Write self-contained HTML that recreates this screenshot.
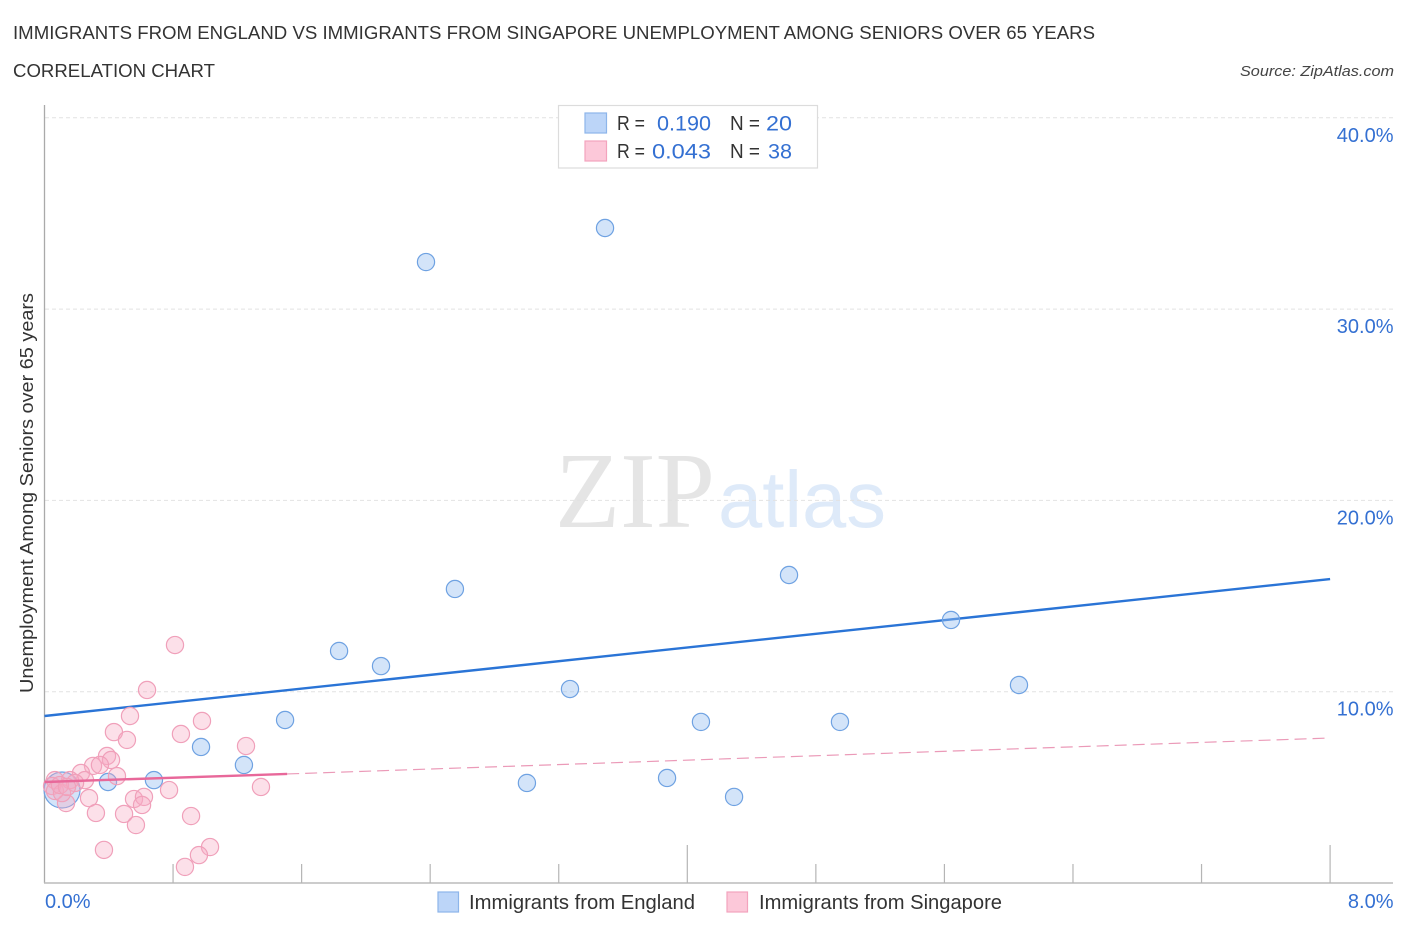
<!DOCTYPE html>
<html lang="en">
<head>
<meta charset="utf-8">
<title>Immigrants from England vs Immigrants from Singapore Correlation Chart</title>
<style>
html,body{margin:0;padding:0;background:#fff;width:1406px;height:930px;overflow:hidden}
svg{display:block;font-family:"Liberation Sans",sans-serif}
</style>
</head>
<body>
<svg id="chart" xmlns="http://www.w3.org/2000/svg" width="1406" height="930" viewBox="0 0 1406 930">
  <rect x="0" y="0" width="1406" height="930" fill="#fff"/>
  <text x="13" y="39" font-size="18.5" fill="#333" textLength="1082" lengthAdjust="spacingAndGlyphs">IMMIGRANTS FROM ENGLAND VS IMMIGRANTS FROM SINGAPORE UNEMPLOYMENT AMONG SENIORS OVER 65 YEARS</text>
  <text x="13" y="77" font-size="18.5" fill="#333" textLength="202" lengthAdjust="spacingAndGlyphs">CORRELATION CHART</text>
  <text x="1394" y="76" font-size="15" font-style="italic" fill="#444" text-anchor="end" textLength="154" lengthAdjust="spacingAndGlyphs">Source: ZipAtlas.com</text>

  <g id="watermark">
    <text x="555" y="527" font-family="'Liberation Serif',serif" font-size="108" fill="#e5e5e5" textLength="160" lengthAdjust="spacingAndGlyphs">ZIP</text>
    <text x="718" y="527" font-size="80" fill="#deeaf9" textLength="168" lengthAdjust="spacingAndGlyphs">atlas</text>
  </g>

  <g id="grid"></g>
  <g id="axes"></g>
  <g id="trend"></g>
  <g id="points"></g>
  <g id="labels"></g>

  <text transform="translate(33,693) rotate(-90)" font-size="18" fill="#333" textLength="400" lengthAdjust="spacingAndGlyphs">Unemployment Among Seniors over 65 years</text>

  <g>
    <rect x="558.5" y="105.5" width="259" height="62.5" fill="#fff" stroke="#dcdcdc" stroke-width="1.2"/>
    <rect x="585" y="113" width="21.5" height="20" fill="#bcd5f8" stroke="#8db5ea" stroke-width="1.2"/>
    <rect x="585" y="141" width="21.5" height="20" fill="#fcc8d9" stroke="#f3a3bd" stroke-width="1.2"/>
    <g font-size="20" fill="#333">
      <text x="617" y="130" textLength="28" lengthAdjust="spacingAndGlyphs">R =</text>
      <text x="617" y="158" textLength="28" lengthAdjust="spacingAndGlyphs">R =</text>
      <text x="730" y="130" textLength="30" lengthAdjust="spacingAndGlyphs">N =</text>
      <text x="730" y="158" textLength="30" lengthAdjust="spacingAndGlyphs">N =</text>
    </g>
    <g font-size="21" fill="#3470d2">
      <text x="657" y="130.5" textLength="54" lengthAdjust="spacingAndGlyphs">0.190</text>
      <text x="652" y="158.5" textLength="59" lengthAdjust="spacingAndGlyphs">0.043</text>
      <text x="766" y="130.5" textLength="26" lengthAdjust="spacingAndGlyphs">20</text>
      <text x="768" y="158.5" textLength="24" lengthAdjust="spacingAndGlyphs">38</text>
    </g>
  </g>

  <g>
    <rect x="438" y="892" width="20.5" height="20" fill="#bcd5f8" stroke="#8db5ea" stroke-width="1.2"/>
    <text x="469" y="909" font-size="20" fill="#333" textLength="226" lengthAdjust="spacingAndGlyphs">Immigrants from England</text>
    <rect x="727" y="892" width="20.5" height="20" fill="#fcc8d9" stroke="#f3a3bd" stroke-width="1.2"/>
    <text x="759" y="909" font-size="20" fill="#333" textLength="243" lengthAdjust="spacingAndGlyphs">Immigrants from Singapore</text>
  </g>
</svg>
<script>
const yTicks = [10, 20, 30, 40];
const yTickLabels = ['10.0%', '20.0%', '30.0%', '40.0%'];
const xMinorTicks = [0.8, 1.6, 2.4, 3.2, 4.8, 5.6, 6.4, 7.2];
const xMajorTicks = [4, 8];
const xEndLabels = ['0.0%', '8.0%'];

const englandX = [2.374, 3.488, 2.554, 4.633, 1.833, 2.094, 3.270, 5.641, 6.064, 1.497, 4.085, 4.950, 0.974, 1.241, 0.681, 0.395, 3.002, 3.874, 4.291, 0.109];
const englandY = [32.46, 34.24, 15.37, 16.10, 12.13, 11.34, 10.14, 13.75, 10.35, 8.52, 8.42, 8.42, 7.11, 6.17, 5.38, 5.28, 5.23, 5.49, 4.50, 4.86];
const englandWeight = [1, 1, 1, 1, 1, 1, 1, 1, 1, 1, 1, 1, 1, 1, 1, 1, 1, 1, 1, 2];

const singaporeX = [0.812, 0.638, 0.532, 0.432, 0.513, 0.849, 0.980, 1.254, 1.347, 0.389, 0.414, 0.302, 0.345, 0.227, 0.451, 0.252, 0.277, 0.557, 0.619, 0.607, 0.775, 0.495, 0.320, 0.569, 0.912, 0.370, 1.030, 0.961, 0.874, 0.134, 0.065, 0.047, 0.065, 0.109, 0.159, 0.190, 0.096, 0.140];
const singaporeY = [12.44, 10.09, 8.73, 7.89, 7.48, 7.79, 8.47, 7.16, 5.02, 6.64, 6.43, 6.12, 6.17, 5.75, 5.59, 5.38, 4.44, 4.39, 4.50, 4.08, 4.86, 3.61, 3.66, 3.03, 3.50, 1.73, 1.88, 1.46, 0.84, 4.18, 5.38, 5.07, 4.81, 4.70, 5.38, 5.23, 5.12, 5.02];

const englandTrendX = [0, 8];
const englandTrendY = [8.73, 15.89];
const singaporeSolidX = [0, 1.51];
const singaporeSolidY = [5.28, 5.70];
const singaporeDashX = [1.51, 8];
const singaporeDashY = [5.70, 7.58];

const NS = 'http://www.w3.org/2000/svg';
function xScale(v) { return 44.5 + v * 160.7; }
function yScale(v) { return 883 - v * 19.13; }
function make(tag, attrs, parent) {
  const el = document.createElementNS(NS, tag);
  for (const k in attrs) el.setAttribute(k, attrs[k]);
  parent.appendChild(el);
  return el;
}

const gridG = document.getElementById('grid');
const axesG = document.getElementById('axes');
const trendG = document.getElementById('trend');
const pointsG = document.getElementById('points');
const labelsG = document.getElementById('labels');

yTicks.forEach(function (t, i) {
  const line = make('line', {x1: 45, x2: 1393, y1: yScale(t), y2: yScale(t), stroke: '#e2e2e2', 'stroke-width': 1, 'stroke-dasharray': '4 3'}, gridG);
  
  
  const label = make('text', {x: 1393.5, y: yScale(t) + 24, 'text-anchor': 'end', 'font-size': 20, fill: '#3470d2'}, labelsG);
  label.textContent = yTickLabels[i];
  
  
});

const yAxis = make('line', {x1: 44.5, x2: 44.5, y1: 105, y2: 883, stroke: '#aaa', 'stroke-width': 1.3}, axesG);


const xAxis = make('line', {x1: 44, x2: 1393, y1: 883, y2: 883, stroke: '#bbb', 'stroke-width': 1.5}, axesG);



xMinorTicks.forEach(function (t) {
  const tick = make('line', {x1: xScale(t), x2: xScale(t), y1: 864, y2: 883, stroke: '#b5b5b5', 'stroke-width': 1.2}, axesG);
  
  
});
xMajorTicks.forEach(function (t) {
  const tick = make('line', {x1: xScale(t), x2: xScale(t), y1: 845, y2: 883, stroke: '#b5b5b5', 'stroke-width': 1.2}, axesG);
  
  
});

const xLabelStart = make('text', {x: 45, y: 908, 'font-size': 20, fill: '#3470d2'}, labelsG);
xLabelStart.textContent = xEndLabels[0];


const xLabelEnd = make('text', {x: 1393.5, y: 908, 'text-anchor': 'end', 'font-size': 20, fill: '#3470d2'}, labelsG);
xLabelEnd.textContent = xEndLabels[1];



englandX.forEach(function (v, i) {
  const c = make('circle', {cx: xScale(v), cy: yScale(englandY[i]), r: englandWeight[i] > 1 ? 18 : 8.6, fill: 'rgba(150,190,240,0.42)', stroke: '#6fa2e2', 'stroke-width': 1.2}, pointsG);
  
  
});
singaporeX.forEach(function (v, i) {
  const c = make('circle', {cx: xScale(v), cy: yScale(singaporeY[i]), r: 8.6, fill: 'rgba(248,170,195,0.36)', stroke: '#f0a0ba', 'stroke-width': 1.2}, pointsG);
  
  
});

const englandTrend = make('line', {x1: xScale(englandTrendX[0]), y1: yScale(englandTrendY[0]), x2: xScale(englandTrendX[1]), y2: yScale(englandTrendY[1]), stroke: '#2a74d6', 'stroke-width': 2.4}, trendG);


const singaporeSolid = make('line', {x1: xScale(singaporeSolidX[0]), y1: yScale(singaporeSolidY[0]), x2: xScale(singaporeSolidX[1]), y2: yScale(singaporeSolidY[1]), stroke: '#e8689a', 'stroke-width': 2.4}, pointsG);


const singaporeDash = make('line', {x1: xScale(singaporeDashX[0]), y1: yScale(singaporeDashY[0]), x2: xScale(singaporeDashX[1]), y2: yScale(singaporeDashY[1]), stroke: '#eb9ab8', 'stroke-width': 1.2, 'stroke-dasharray': '12 6'}, trendG);


</script>
</body>
</html>
